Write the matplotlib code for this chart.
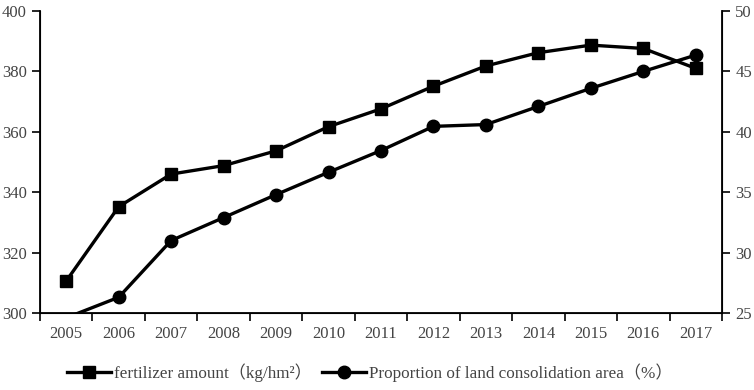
import matplotlib
matplotlib.use("Agg")
import matplotlib.pyplot as plt
import numpy as np

years = ["2005", "2006", "2007", "2008", "2009", "2010", "2011",
         "2012", "2013", "2014", "2015", "2016", "2017"]
fertilizer = [310.6, 335.2, 346.0, 348.8, 353.7, 361.7, 367.6,
              375.1, 381.8, 386.2, 388.7, 387.6, 381.0]
land_share = [24.6, 26.3, 31.0, 32.9, 34.8, 36.65, 38.45,
              40.45, 40.6, 42.1, 43.6, 45.0, 46.35]

plt.rcParams["font.family"] = ["Liberation Serif", "Noto Sans CJK SC"]
text_color = "#444444"

fig = plt.figure(figsize=(7.54, 3.90), dpi=100)
ax = fig.add_axes([40 / 754, 1 - 313 / 390, 682 / 754, 302 / 390])
ax2 = ax.twinx()

x = np.arange(len(years))
l1, = ax.plot(x, fertilizer, color="black", lw=2.4, marker="s", ms=8.5,
              label="fertilizer amount\uff08kg/hm\u00b2\uff09")
# the 2005 point lies below the axis range, so its marker is hidden
l2, = ax2.plot(x, land_share, color="black", lw=2.4, marker="o", ms=9,
               markevery=list(range(1, len(years))),
               label="Proportion of land consolidation area\uff08%\uff09")

ax.set_xlim(-0.5, len(years) - 0.5)
ax.set_ylim(300, 400)
ax.set_yticks(np.arange(300, 401, 20))
ax2.set_ylim(25, 50)
ax2.set_yticks(np.arange(25, 51, 5))

# category ticks on boundaries, labels centred
ax.set_xticks(np.arange(len(years) + 1) - 0.5)
ax.set_xticklabels([])
ax.set_xticks(x, minor=True)
ax.set_xticklabels(years, minor=True)
ax.tick_params(axis="x", which="minor", length=0, pad=9)
ax.tick_params(axis="x", which="major", length=6, width=1.2, direction="out")

ax.spines["top"].set_visible(False)
ax2.spines["top"].set_visible(False)
for sp in ["left", "bottom"]:
    ax.spines[sp].set_linewidth(1.3)
ax2.spines["right"].set_linewidth(1.3)

ax.tick_params(axis="y", length=6, width=1.2, direction="out")
ax2.tick_params(axis="y", length=6, width=1.2, direction="out")
for a in (ax, ax2):
    a.tick_params(labelsize=12, labelcolor=text_color, which="both")

fig.legend(handles=[l1, l2], loc="center", bbox_to_anchor=(0.49, 1 - 373 / 390),
           ncol=2, frameon=False, fontsize=12.3, handlelength=2.6,
           handletextpad=0.15, columnspacing=0.6, labelcolor=text_color)

fig.savefig("out.png", dpi=100)
